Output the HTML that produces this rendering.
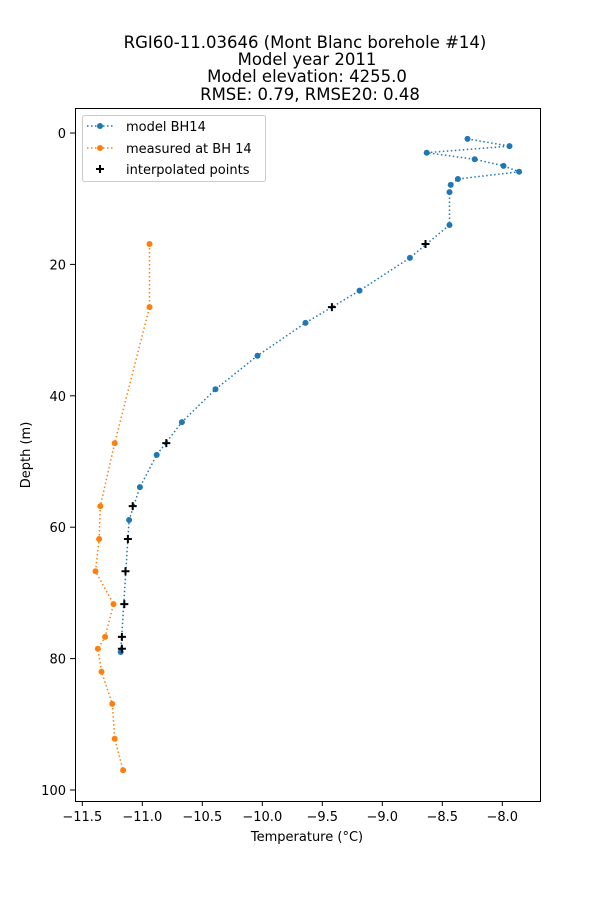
<!DOCTYPE html>
<html><head><meta charset="utf-8"><style>
body{margin:0;background:#fff;}
svg{font-family:"DejaVu Sans","Liberation Sans",sans-serif;}
</style></head><body>
<svg id="chart" width="600" height="900" xmlns="http://www.w3.org/2000/svg">
<rect width="600" height="900" fill="#fff"/>
<g font-size="16.5" text-anchor="middle" fill="#000">
<text x="305" y="48">RGI60-11.03646 (Mont Blanc borehole #14)</text>
<text x="307" y="65">Model year 2011</text>
<text x="307" y="82">Model elevation: 4255.0</text>
<text x="310" y="100">RMSE: 0.79, RMSE20: 0.48</text>
</g>
<g id="ticks"></g>
<g id="marks"></g>
<rect x="75.5" y="108.5" width="465" height="693" fill="none" stroke="#000" stroke-width="1"/>
<text x="307" y="841" font-size="13" text-anchor="middle">Temperature (°C)</text>
<text transform="translate(30,455) rotate(-90)" font-size="13" text-anchor="middle">Depth (m)</text>
<g>
<rect x="82.5" y="115.5" width="183" height="66" rx="2" fill="#fff" fill-opacity="0.8" stroke="#ccc"/>
<line x1="87" y1="126" x2="113" y2="126" stroke="#1f77b4" stroke-width="1.5" stroke-dasharray="1.5,2.5"/>
<circle cx="100" cy="126" r="3" fill="#1f77b4"/>
<text x="126" y="131" font-size="13">model BH14</text>
<line x1="87" y1="148" x2="113" y2="148" stroke="#ff7f0e" stroke-width="1.5" stroke-dasharray="1.5,2.5"/>
<circle cx="100" cy="148" r="3" fill="#ff7f0e"/>
<text x="126" y="153" font-size="13">measured at BH 14</text>
<path d="M96,169h8M100,165v8" stroke="#000" stroke-width="2"/>
<text x="126" y="174" font-size="13">interpolated points</text>
</g>
</svg>
<script>
const modelDepth=[0.9,2,3,4,5,5.9,7,7.9,9,14,19,24,28.9,33.9,39,44,49,53.9,58.9,79];
const modelTemp=[-8.29,-7.94,-8.63,-8.23,-7.99,-7.86,-8.37,-8.43,-8.44,-8.44,-8.77,-9.19,-9.64,-10.04,-10.39,-10.67,-10.88,-11.02,-11.11,-11.18];
const measDepth=[16.9,26.5,47.2,56.8,61.8,66.7,71.7,76.7,78.5,82.0,86.9,92.2,97.0];
const measTemp=[-10.94,-10.94,-11.23,-11.35,-11.36,-11.39,-11.24,-11.31,-11.37,-11.34,-11.25,-11.23,-11.16];
const interpDepth=[16.9,26.5,47.2,56.8,61.8,66.7,71.7,76.7,78.5];
const interpTemp=[-8.64,-9.42,-10.8,-11.08,-11.12,-11.14,-11.15,-11.17,-11.17];
const xTicks=[-11.5,-11.0,-10.5,-10.0,-9.5,-9.0,-8.5,-8.0];
const yTicks=[0,20,40,60,80,100];
const NS='http://www.w3.org/2000/svg';
function X(v){return 82.3+(v+11.5)*120;}
function Y(d){return 133+d*6.57;}
function mk(t,a,p){const e=document.createElementNS(NS,t);for(const k in a)e.setAttribute(k,a[k]);p.appendChild(e);return e;}
const tg=document.getElementById('ticks'),mg=document.getElementById('marks');
xTicks.forEach(v=>{const x=X(v);
 const l=mk('line',{x1:x,y1:801,x2:x,y2:806,stroke:'#000'},tg);
 
 
 const t=mk('text',{x:x,y:821,'font-size':13,'text-anchor':'middle'},tg);t.textContent=(v<0?'\u2212':'')+Math.abs(v).toFixed(1);
 
 });
yTicks.forEach(v=>{const y=Y(v);
 const l=mk('line',{x1:70,y1:y,x2:75,y2:y,stroke:'#000'},tg);
 
 
 const t=mk('text',{x:66,y:y+5,'font-size':13,'text-anchor':'end'},tg);t.textContent=v;
 
 });
function series(ds,ts,col,name){
 const pts=ds.map((d,i)=>X(ts[i])+','+Y(d)).join(' ');
 const pl=mk('polyline',{points:pts,fill:'none',stroke:col,'stroke-width':1.5,'stroke-dasharray':'1.5,2.5'},mg);
 
 
 ds.forEach((d,i)=>{const c=mk('circle',{cx:X(ts[i]),cy:Y(d),r:3,fill:col},mg);
 
 });
}
series(modelDepth,modelTemp,'#1f77b4','model-bh14');
series(measDepth,measTemp,'#ff7f0e','measured-bh14');
interpDepth.forEach((d,i)=>{const x=X(interpTemp[i]),y=Y(d);
 const p=mk('path',{d:`M${x-4},${y}h8M${x},${y-4}v8`,stroke:'#000','stroke-width':2},mg);
 
 });
</script>
</body></html>
